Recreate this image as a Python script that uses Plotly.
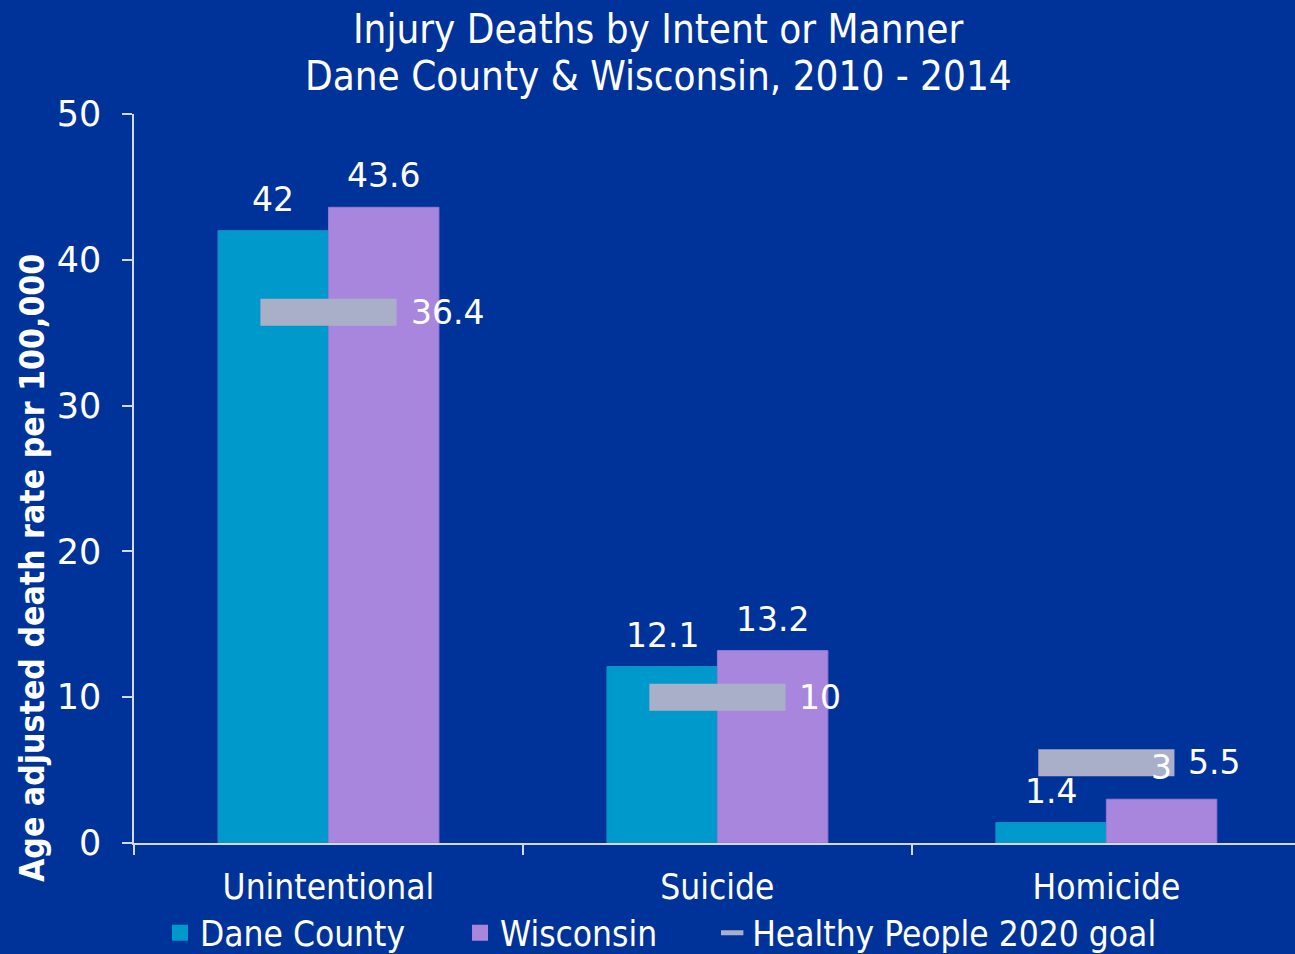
import plotly.graph_objects as go

categories = ["Unintentional", "Suicide", "Homicide"]
dane_county = [42, 12.1, 1.4]
wisconsin = [43.6, 13.2, 3]
hp2020_goal = [36.4, 10, 5.5]
y_ticks = [0, 10, 20, 30, 40, 50]

BG = "#003399"
TEAL = "#0099CC"
PURPLE = "#A886DE"
GREY = "#AAAFC9"
AXIS = "#D4D8E8"
COND = "Liberation Sans Narrow, DejaVu Sans Condensed, Arial Narrow, sans-serif"
NUM = "DejaVu Sans, Verdana, sans-serif"

bar_w = 0.284
goal_w = 0.35
goal_thick = 1.85
xi = list(range(len(categories)))

PL, PR, PT, PB = 134, 0, 114, 111
W, H = 1295, 954
pw, ph = W - PL - PR, H - PT - PB


def px_x(p):
    return (p - PL) / pw


def px_y(p):
    return (H - PB - p) / ph


fig = go.Figure()
fig.add_trace(go.Bar(x=xi, y=dane_county, width=bar_w, offset=-bar_w,
                     marker=dict(color=TEAL, line=dict(color="#1A8CC4", width=1)),
                     showlegend=False, hoverinfo="skip"))
fig.add_trace(go.Bar(x=xi, y=wisconsin, width=bar_w, offset=0,
                     marker=dict(color=PURPLE, line=dict(color="#9378D6", width=1)),
                     showlegend=False, hoverinfo="skip"))
fig.add_trace(go.Bar(x=xi, y=[goal_thick] * len(hp2020_goal),
                     base=[g - goal_thick / 2 for g in hp2020_goal],
                     width=goal_w, offset=-goal_w / 2,
                     marker=dict(color=GREY, line=dict(width=0)),
                     showlegend=False, hoverinfo="skip"))

# legend-only entries
PAD = "\u00a0" * 5
fig.add_trace(go.Scatter(x=[None], y=[None], mode="markers", name="Dane County" + PAD,
                         marker=dict(symbol="square", size=18, color=TEAL)))
fig.add_trace(go.Scatter(x=[None], y=[None], mode="markers", name="Wisconsin" + PAD,
                         marker=dict(symbol="square", size=18, color=PURPLE)))
fig.add_trace(go.Scatter(x=[None], y=[None], mode="markers", name="Healthy People 2020 goal",
                         marker=dict(symbol="line-ew", size=16, color=GREY,
                                     line=dict(color=GREY, width=5))))

annotations = []
for i, v in enumerate(dane_county):
    annotations.append(dict(x=i - bar_w / 2, y=v, xref="x", yref="y", text=f"{v:g}",
                            showarrow=False, yanchor="bottom", yshift=10,
                            font=dict(family=NUM, size=33, color="white")))
for i, v in enumerate(wisconsin):
    annotations.append(dict(x=i + bar_w / 2, y=v, xref="x", yref="y", text=f"{v:g}",
                            showarrow=False, yanchor="bottom", yshift=10,
                            font=dict(family=NUM, size=33, color="white")))
for i, v in enumerate(hp2020_goal):
    annotations.append(dict(x=i + goal_w / 2, y=v, xref="x", yref="y", text=f"{v:g}",
                            showarrow=False, xanchor="left", yanchor="middle", xshift=12,
                            font=dict(family=NUM, size=33, color="white")))

annotations.append(dict(x=px_x(658), y=px_y(29), xref="paper", yref="paper",
                        text="Injury Deaths by Intent or Manner", showarrow=False,
                        xanchor="center", yanchor="middle",
                        font=dict(family=COND, size=40, color="white")))
annotations.append(dict(x=px_x(658), y=px_y(76), xref="paper", yref="paper",
                        text="Dane County &amp; Wisconsin, 2010 - 2014", showarrow=False,
                        xanchor="center", yanchor="middle",
                        font=dict(family=COND, size=40, color="white")))

annotations.append(dict(x=px_x(32), y=px_y(568), xref="paper", yref="paper",
                        text="<b>Age adjusted death rate per 100,000</b>", textangle=-90,
                        showarrow=False, xanchor="center", yanchor="middle",
                        font=dict(family=COND, size=33.5, color="white")))

fig.update_layout(
    width=W, height=H,
    paper_bgcolor=BG, plot_bgcolor=BG,
    barmode="overlay",
    margin=dict(l=PL, r=PR, t=PT, b=PB, autoexpand=False),
    annotations=annotations,
    showlegend=True,
    legend=dict(orientation="h", x=px_x(160), xanchor="left",
                y=px_y(933), yanchor="middle",
                font=dict(family=COND, size=35, color="white"),
                bgcolor="rgba(0,0,0,0)", itemwidth=30),
    xaxis=dict(range=[-0.5, 2.485], tickmode="array", tickvals=xi, ticktext=categories,
               showline=True, linecolor=AXIS, linewidth=1.5, automargin=False,
               showgrid=False, zeroline=False, ticklabelstandoff=12,
               ticks="", tickfont=dict(family=COND, size=35, color="white")),
    yaxis=dict(range=[0, 50], tickvals=y_ticks, showline=True, linecolor=AXIS, linewidth=1.5,
               ticks="outside", ticklen=10, tickcolor=AXIS, tickwidth=1.5, automargin=False,
               showgrid=False, zeroline=False, ticklabelstandoff=14,
               tickfont=dict(family=NUM, size=35, color="white")),
)

# category boundary tick marks on x axis via minor ticks
fig.update_xaxes(minor=dict(tickvals=[-0.5, 0.5, 1.5, 2.5], ticks="outside", ticklen=10,
                            tickcolor=AXIS, tickwidth=1.5))

fig.write_html("out.html", config={"displayModeBar": False},
               post_script="document.body.style.margin='0';document.body.style.overflow='hidden';")
